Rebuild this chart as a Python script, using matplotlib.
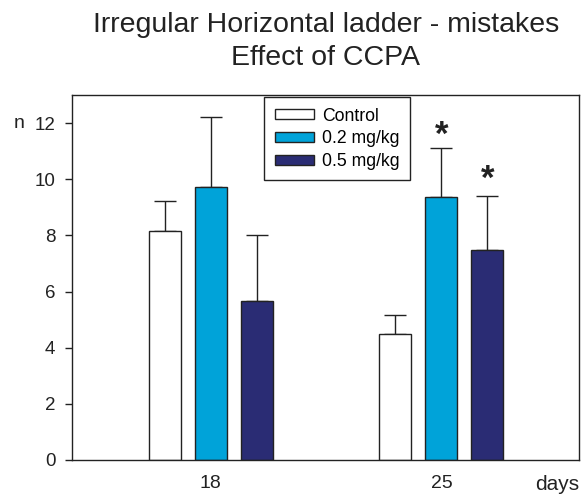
import matplotlib
matplotlib.use("Agg")
import matplotlib.pyplot as plt
import numpy as np

plt.rcParams['font.family'] = ['Liberation Sans', 'DejaVu Sans']

days = [18, 25]
groups = ["Control", "0.2 mg/kg", "0.5 mg/kg"]
means = {
    "Control":   [8.16, 4.48],
    "0.2 mg/kg": [9.72, 9.37],
    "0.5 mg/kg": [5.66, 7.48],
}
errors = {
    "Control":   [1.08, 0.70],
    "0.2 mg/kg": [2.51, 1.76],
    "0.5 mg/kg": [2.36, 1.93],
}
# significance markers: (group, day index)
significant = [("0.2 mg/kg", 1), ("0.5 mg/kg", 1)]
yticks = [0, 2, 4, 6, 8, 10, 12]

colors = {"Control": "#ffffff", "0.2 mg/kg": "#00a3d9", "0.5 mg/kg": "#2a2c74"}
offsets = {"Control": -1.394, "0.2 mg/kg": 0.0, "0.5 mg/kg": 1.394}
star_pad = {"0.2 mg/kg": 12, "0.5 mg/kg": 16}
width = 0.97
ink = "#222222"

fig = plt.figure(figsize=(5.83, 4.95), dpi=100)
ax = fig.add_axes([72/583, 35/495, 507/583, 365/495])

x = np.array(days, dtype=float)
for g in groups:
    ax.bar(x + offsets[g], means[g], width=width, color=colors[g],
           edgecolor=ink, linewidth=1.0, label=g, zorder=2)
    ax.errorbar(x + offsets[g], means[g],
                yerr=[np.zeros(len(days)), errors[g]],
                fmt='none', ecolor=ink, elinewidth=1.0, capsize=8,
                capthick=1.0, zorder=1)

for g, i in significant:
    top = means[g][i] + errors[g][i]
    ax.annotate('*', xy=(days[i] + offsets[g], top), xycoords='data',
                xytext=(0, star_pad[g]), textcoords='offset pixels',
                ha='center', va='center', fontsize=25, fontweight='bold',
                color=ink)

ax.set_xlim(13.8, 29.17)
ax.set_ylim(0, 13)
ax.set_yticks(yticks)
ax.set_xticks(days)
ax.set_xticklabels([str(d) for d in days])
ax.tick_params(axis='y', direction='out', length=5, width=1.0, pad=7,
               labelsize=13.5, colors=ink)
ax.tick_params(axis='x', length=0, pad=11, labelsize=14, colors=ink)
for s in ax.spines.values():
    s.set_linewidth(1.0)
    s.set_color(ink)

ax.annotate('n', xy=(0, 12), xycoords=('axes fraction', 'data'),
            xytext=(-47, 0), textcoords='offset pixels',
            ha='right', va='center', fontsize=14, color=ink)
ax.annotate('days', xy=(1, 0), xycoords='axes fraction',
            xytext=(-44, -15), textcoords='offset pixels',
            ha='left', va='top', fontsize=15, color=ink)

leg = ax.legend(loc='upper left', bbox_to_anchor=(0.3787, 0.9945),
                borderaxespad=0, fontsize=12.7, fancybox=False,
                edgecolor=ink, framealpha=1, handlelength=2.25,
                handleheight=0.5, handletextpad=0.45, labelspacing=0.32,
                borderpad=0.6)
leg.get_frame().set_linewidth(1.0)

fig.suptitle("Irregular Horizontal ladder - mistakes\nEffect of CCPA",
             x=325.8/583, y=1 - 12/495, fontsize=20.5, color=ink,
             va='top', linespacing=1.33)

fig.savefig("out.png", dpi=100)
